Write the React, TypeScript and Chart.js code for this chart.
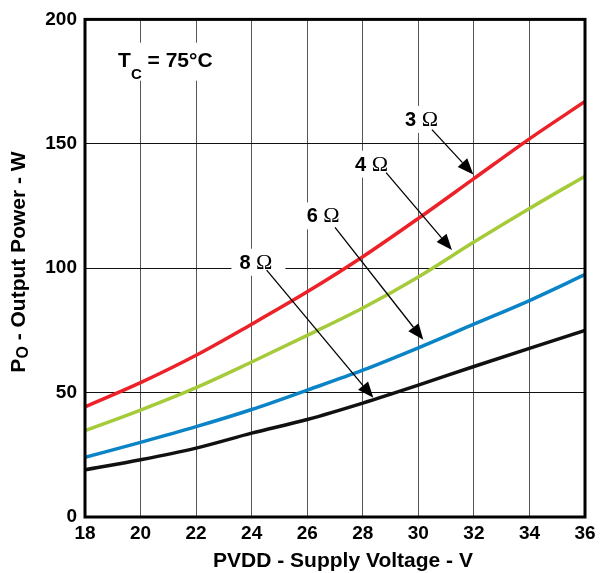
import React, { useEffect, useRef } from "react";
import { Chart, registerables } from "chart.js";

Chart.register(...registerables);

// ---- data ----
const voltage = [18, 20, 22, 24, 26, 28, 30, 32, 34, 36];
const power3 = [44.3, 54, 65, 77.5, 90.5, 104.6, 120, 136, 152, 167];
const power4 = [34.7, 43, 52, 62.3, 73, 84, 96.5, 110.5, 124, 137];
const power6 = [24, 30, 36.3, 43.2, 51, 59, 68, 77.5, 87, 97.4];
const power8 = [19, 23, 27.7, 33.7, 39.2, 45.8, 53, 60.5, 67.8, 75];

const xTickMin = 18;
const xTickMax = 36;
const xTickStep = 2;
const yTickMin = 0;
const yTickMax = 200;
const yTickStep = 50;

const xTitle = "PVDD - Supply Voltage - V";
const yTitleMain = "P";
const yTitleSub = "O";
const yTitleRest = " - Output Power - W";
const tempMain = "T";
const tempSub = "C";
const tempRest = " = 75\u00B0C";

// annotation labels (data coordinates)
const loadNumbers = ["3", "4", "6", "8"];
const loadLabelX = [29.52, 27.72, 25.98, 23.56];
const loadLabelY = [157.2, 139.2, 118.4, 99.8];
const arrowFromX = [30.49, 28.84, 27.0, 24.54];
const arrowFromY = [155.7, 138.4, 116.4, 99.2];
const arrowToX = [31.98, 31.21, 30.18, 28.38];
const arrowToY = [137.7, 107.3, 71.2, 47.9];
const tempLabelX = 19.19;
const tempLabelY = 181;

const SANS = '"Liberation Sans", Arial, sans-serif';
const SERIF = '"Liberation Serif", "Times New Roman", serif';

const decorPlugin = {
  id: "decor",
  beforeDatasetsDraw(chart: any) {
    const { ctx, scales } = chart;
    const xs = scales.x;
    const ys = scales.y;
    ctx.save();
    ctx.fillStyle = "#ffffff";
    {
      const px = xs.getPixelForValue(tempLabelX);
      const py = ys.getPixelForValue(tempLabelY);
      ctx.fillRect(px - 10, py - 24, 118, 38);
    }
    for (let i = 0; i < loadNumbers.length; i++) {
      const px = xs.getPixelForValue(loadLabelX[i]);
      const py = ys.getPixelForValue(loadLabelY[i]);
      ctx.fillRect(px - 8, py - 20, 54, 27);
    }
    ctx.restore();
  },
  afterDatasetsDraw(chart: any) {
    const { ctx, scales } = chart;
    const xs = scales.x;
    const ys = scales.y;
    ctx.save();
    ctx.fillStyle = "#000";
    ctx.strokeStyle = "#000";
    ctx.textBaseline = "alphabetic";
    ctx.textAlign = "left";
    {
      const px = xs.getPixelForValue(tempLabelX);
      const py = ys.getPixelForValue(tempLabelY);
      ctx.font = `bold 21px ${SANS}`;
      ctx.fillText(tempMain, px, py);
      let x = px + ctx.measureText(tempMain).width;
      ctx.font = `bold 15px ${SANS}`;
      ctx.fillText(tempSub, x, py + 12);
      x += ctx.measureText(tempSub).width;
      ctx.font = `bold 21px ${SANS}`;
      ctx.fillText(tempRest, x, py);
    }
    for (let i = 0; i < loadNumbers.length; i++) {
      const px = xs.getPixelForValue(loadLabelX[i]);
      const py = ys.getPixelForValue(loadLabelY[i]);
      ctx.font = `bold 20px ${SANS}`;
      const t = loadNumbers[i] + " ";
      ctx.fillText(t, px, py);
      const w = ctx.measureText(t).width;
      ctx.font = `22px ${SERIF}`;
      ctx.fillText("\u03A9", px + w, py);

      const x1 = xs.getPixelForValue(arrowFromX[i]);
      const y1 = ys.getPixelForValue(arrowFromY[i]);
      const x2 = xs.getPixelForValue(arrowToX[i]);
      const y2 = ys.getPixelForValue(arrowToY[i]);
      const ang = Math.atan2(y2 - y1, x2 - x1);
      const headLen = 16;
      const headHalf = 6.5;
      const bx = x2 - headLen * Math.cos(ang);
      const by = y2 - headLen * Math.sin(ang);
      ctx.lineWidth = 1.3;
      ctx.beginPath();
      ctx.moveTo(x1, y1);
      ctx.lineTo(bx, by);
      ctx.stroke();
      ctx.beginPath();
      ctx.moveTo(x2, y2);
      ctx.lineTo(bx + headHalf * Math.sin(ang), by - headHalf * Math.cos(ang));
      ctx.lineTo(bx - headHalf * Math.sin(ang), by + headHalf * Math.cos(ang));
      ctx.closePath();
      ctx.fill();
    }
    ctx.restore();
  },
  afterDraw(chart: any) {
    const { ctx, chartArea } = chart;
    const { left, right, top, bottom } = chartArea;
    ctx.save();
    ctx.strokeStyle = "#000";
    ctx.lineWidth = 3;
    ctx.strokeRect(left, top, right - left, bottom - top);

    ctx.fillStyle = "#000";
    ctx.font = `bold 21px ${SANS}`;
    ctx.textAlign = "center";
    ctx.textBaseline = "alphabetic";
    ctx.fillText(xTitle, 343, 567);

    ctx.font = `bold 21px ${SANS}`;
    const wMain = ctx.measureText(yTitleMain).width;
    const wRest = ctx.measureText(yTitleRest).width;
    ctx.font = `bold 16px ${SANS}`;
    const wSub = ctx.measureText(yTitleSub).width;
    const total = wMain + wSub + wRest;
    const cy = 262;
    ctx.translate(25, cy);
    ctx.rotate(-Math.PI / 2);
    ctx.textAlign = "left";
    let x = -total / 2;
    ctx.font = `bold 21px ${SANS}`;
    ctx.fillText(yTitleMain, x, 0);
    x += wMain;
    ctx.font = `bold 16px ${SANS}`;
    ctx.fillText(yTitleSub, x, 3);
    x += wSub;
    ctx.font = `bold 21px ${SANS}`;
    ctx.fillText(yTitleRest, x, 0);
    ctx.restore();
  },
};

function toPoints(vals: number[]) {
  return voltage.map((v, i) => ({ x: v, y: vals[i] }));
}

export default function App() {
  const ref = useRef<HTMLCanvasElement | null>(null);

  useEffect(() => {
    document.body.style.margin = "0";
    const canvas = ref.current;
    if (!canvas) return;
    const mk = (data: number[], color: string) => ({
      data: toPoints(data),
      borderColor: color,
      backgroundColor: color,
      borderWidth: 3.5,
      pointRadius: 0,
      cubicInterpolationMode: "monotone" as const,
      fill: false,
    });
    const chart = new Chart(canvas, {
      type: "line",
      data: {
        datasets: [
          mk(power3, "#ED2228"),
          mk(power4, "#A6CB3A"),
          mk(power6, "#0A84C6"),
          mk(power8, "#111111"),
        ],
      },
      options: {
        animation: false,
        responsive: false,
        devicePixelRatio: 1,
        layout: { padding: { top: 15, right: 18, left: 0, bottom: 0 } },
        plugins: {
          legend: { display: false },
          tooltip: { enabled: false },
          title: { display: false },
        },
        scales: {
          x: {
            type: "linear",
            min: xTickMin,
            max: xTickMax,
            afterFit: (s: any) => {
              s.height = 56;
            },
            ticks: {
              stepSize: xTickStep,
              color: "#000",
              padding: 5,
              maxRotation: 0,
              font: { family: SANS, size: 19, weight: "bold" },
            },
            grid: { color: "#555", lineWidth: 1, drawTicks: false },
            border: { display: false },
          },
          y: {
            type: "linear",
            min: yTickMin,
            max: yTickMax,
            afterFit: (s: any) => {
              s.width = 85;
            },
            ticks: {
              stepSize: yTickStep,
              color: "#000",
              padding: 8,
              font: { family: SANS, size: 19, weight: "bold" },
            },
            grid: { color: "#111", lineWidth: 1, drawTicks: false },
            border: { display: false },
          },
        },
      },
      plugins: [decorPlugin],
    });
    return () => chart.destroy();
  }, []);

  return (
    <div style={{ width: 603, height: 573, background: "#fff" }}>
      <canvas ref={ref} width={603} height={573} />
    </div>
  );
}
